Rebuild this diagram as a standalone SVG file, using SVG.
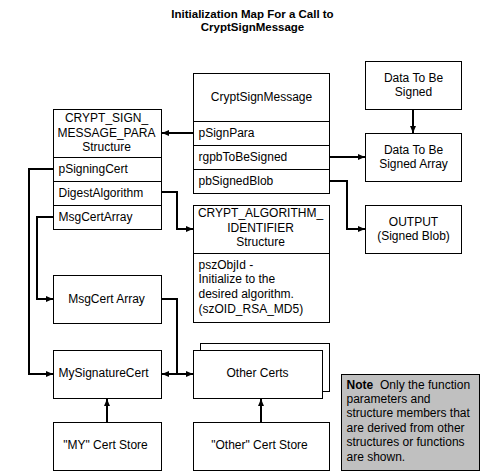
<svg xmlns="http://www.w3.org/2000/svg" width="482" height="473" viewBox="0 0 482 473">
<style>
.box{fill:#fff;stroke:#000;stroke-width:1}
.note{fill:#c0c0c0;stroke:#000;stroke-width:1}
.div{stroke:#000;stroke-width:1;fill:none}
text{font-family:"Liberation Sans",Arial,sans-serif;font-size:12px;fill:#000}
.c{text-anchor:middle}
.title{font-weight:bold;font-size:11.5px;text-anchor:middle}
.conn path{fill:none;stroke:#000;stroke-width:2}
</style>
<defs>
<marker id="ah" markerUnits="userSpaceOnUse" markerWidth="8" markerHeight="6" refX="7" refY="3" orient="auto">
<path d="M0,0 L7,3 L0,6 z" fill="#000"/>
</marker>
</defs>
<rect width="482" height="473" fill="#fff"/>
<g id="title">
<text class="title" x="252.5" y="17.5">Initialization Map For a Call to</text>
<text class="title" x="252.5" y="31">CryptSignMessage</text>
</g>
<g id="cryptSignMessage">
<rect class="box" x="193.5" y="73.5" width="136" height="120"/>
<path class="div" d="M193.5,121.5H329.5M193.5,145.5H329.5M193.5,169.5H329.5"/>
<text class="c" x="261.5" y="101">CryptSignMessage</text>
<text x="198.5" y="137">pSignPara</text>
<text x="198.5" y="161">rgpbToBeSigned</text>
<text x="198.5" y="185">pbSignedBlob</text>
</g>
<g id="signMessagePara">
<rect class="box" x="53.5" y="109.5" width="108" height="120"/>
<path class="div" d="M53.5,157.5H161.5M53.5,181.5H161.5M53.5,205.5H161.5"/>
<text class="c" x="106.5" y="122">CRYPT_SIGN_</text>
<text class="c" x="106.5" y="136.5">MESSAGE_PARA</text>
<text class="c" x="106.5" y="151">Structure</text>
<text x="58.5" y="173">pSigningCert</text>
<text x="58.5" y="197">DigestAlgorithm</text>
<text x="58.5" y="221">MsgCertArray</text>
</g>
<g id="dataToBeSigned">
<rect class="box" x="365.5" y="61.5" width="96" height="48"/>
<text class="c" x="413.5" y="81.5">Data To Be</text>
<text class="c" x="413.5" y="95.5">Signed</text>
</g>
<g id="dataArray">
<rect class="box" x="365.5" y="133.5" width="96" height="48"/>
<text class="c" x="413.5" y="154">Data To Be</text>
<text class="c" x="413.5" y="168">Signed Array</text>
</g>
<g id="output">
<rect class="box" x="365.5" y="205.5" width="96" height="48"/>
<text class="c" x="413.5" y="226">OUTPUT</text>
<text class="c" x="413.5" y="240">(Signed Blob)</text>
</g>
<g id="algorithmIdentifier">
<rect class="box" x="193.5" y="205.5" width="136" height="117"/>
<path class="div" d="M193.5,253.5H329.5"/>
<text class="c" x="260.5" y="217">CRYPT_ALGORITHM_</text>
<text class="c" x="260.5" y="231.5">IDENTIFIER</text>
<text class="c" x="260.5" y="246">Structure</text>
<text x="198.5" y="268.5">pszObjId -</text>
<text x="198.5" y="283.2">Initialize to the</text>
<text x="198.5" y="297.9">desired algorithm.</text>
<text x="198.5" y="312.6">(szOID_RSA_MD5)</text>
</g>
<g id="msgCertArray">
<rect class="box" x="53.5" y="275.5" width="108" height="48"/>
<text class="c" x="106.5" y="303">MsgCert Array</text>
</g>
<g id="mySignatureCert">
<rect class="box" x="53.5" y="350.5" width="108" height="48"/>
<text x="58.5" y="377">MySignatureCert</text>
</g>
<g id="otherCerts">
<rect class="box" x="200.5" y="343.5" width="129" height="48"/>
<rect class="box" x="193.5" y="350.5" width="129" height="48"/>
<text class="c" x="257.5" y="377">Other Certs</text>
</g>
<g id="myCertStore">
<rect class="box" x="53.5" y="422.5" width="108" height="48"/>
<text class="c" x="105.5" y="448.5">"MY" Cert Store</text>
</g>
<g id="otherCertStore">
<rect class="box" x="193.5" y="422.5" width="136" height="48"/>
<text class="c" x="259.5" y="448.5">"Other" Cert Store</text>
</g>
<g id="noteBox">
<rect class="note" x="341.5" y="374.5" width="138" height="96"/>
<text x="346.5" y="388.5"><tspan font-weight="bold">Note</tspan><tspan x="380">Only the function</tspan></text>
<text x="346.5" y="402.9">parameters and</text>
<text x="346.5" y="417.3">structure members that</text>
<text x="346.5" y="431.7">are derived from other</text>
<text x="346.5" y="446.1">structures or functions</text>
<text x="346.5" y="460.5">are shown.</text>
</g>
<g id="connectors" class="conn">
<path d="M193.5,133H162" marker-end="url(#ah)"/>
<path d="M329.5,157H365" marker-end="url(#ah)"/>
<path d="M329.5,181H347V229H365" marker-end="url(#ah)"/>
<path d="M413,109.5V133" marker-end="url(#ah)"/>
<path d="M161.5,192H177V229H193" marker-end="url(#ah)"/>
<path d="M53.5,169H29V374H53" marker-end="url(#ah)"/>
<path d="M53.5,217H37V299H53" marker-end="url(#ah)"/>
<path d="M161.5,299H177V374"/>
<path d="M177,374H162" marker-end="url(#ah)"/>
<path d="M177,374H193" marker-end="url(#ah)"/>
<path d="M107,422.5V399" marker-end="url(#ah)"/>
<path d="M261,422.5V399" marker-end="url(#ah)"/>
</g>
</svg>
